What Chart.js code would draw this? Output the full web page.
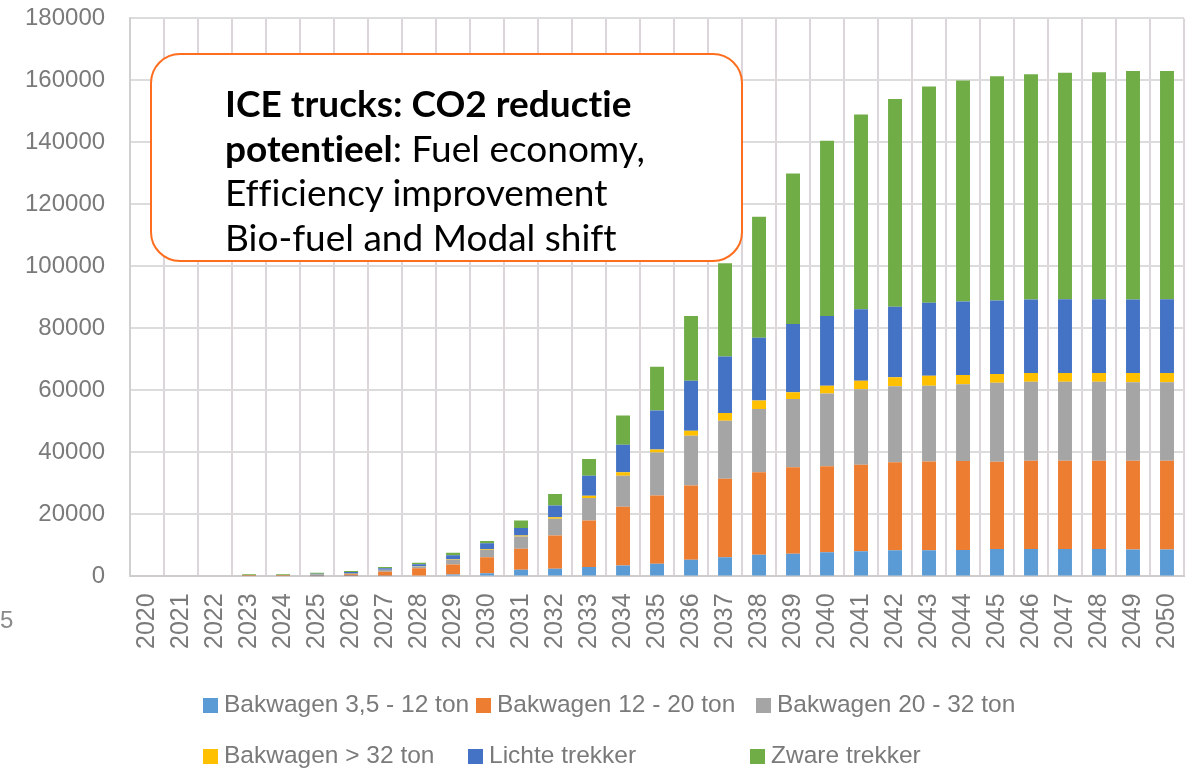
<!DOCTYPE html>
<html>
<head>
<meta charset="utf-8">
<script src="https://cdn.jsdelivr.net/npm/chart.js@4/dist/chart.umd.min.js"></script>
<style>
  html, body { margin: 0; padding: 0; background: #ffffff; }
  #wrap { position: relative; width: 1192px; height: 772px; overflow: hidden; background: #fff; }
  #chart { position: absolute; left: 0; top: -21px; }
  .callout { position: absolute; left: 150px; top: 53px; width: 589px; height: 205px;
    border: 2px solid #FF6E1E; border-radius: 30px; background: #fff; box-sizing: content-box;
    font-family: "Lato", "Noto Sans", sans-serif; color: #000; font-variant-ligatures: none; }
  .callout .inner { position: absolute; left: 73px; top: 26px; font-size: 37px; line-height: 44.5px; white-space: nowrap; }
  .legend-item { position: absolute; font-family: "Liberation Sans", Arial, sans-serif; font-size: 24.5px; color: #7a7a7a; white-space: nowrap; line-height: 28px; }
  .legend-item .box { display: inline-block; width: 15px; height: 15px; margin-right: 6px; vertical-align: -1px; }
  .stray { position: absolute; left: 0px; top: 606px; font-family: "Liberation Sans", Arial, sans-serif; font-size: 24px; color: #8a8a8a; }
</style>
</head>
<body>
<div id="wrap">
  <canvas id="chart" width="1214" height="793"></canvas>
  <div class="callout"><div class="inner" id="calloutText"></div></div>
  <div id="legend"></div>
  <div class="stray">5</div>
</div>
<script>
// ---- data ----
const years = ["2020","2021","2022","2023","2024","2025","2026","2027","2028","2029","2030",
  "2031","2032","2033","2034","2035","2036","2037","2038","2039","2040",
  "2041","2042","2043","2044","2045","2046","2047","2048","2049","2050"];

const bakwagen3_12 = [0,0,0,0,0,50,100,200,300,600,1000,2100,2500,3000,3500,4100,5400,6200,7000,7300,7800,8100,8400,8400,8500,8800,8800,8800,8800,8700,8700];
const bakwagen12_20 = [0,0,0,100,100,300,600,1300,2300,3200,5200,6800,10700,15000,19000,22000,23900,25300,26600,27900,27700,27900,28400,28700,28700,28200,28500,28500,28500,28600,28600];
const bakwagen20_32 = [0,0,0,200,200,300,400,600,600,1600,2400,4000,5400,7300,10000,13900,16100,18700,20400,22000,23500,24400,24500,24400,24800,25500,25500,25500,25500,25300,25300];
const bakwagen32plus = [0,0,0,0,0,0,0,50,100,100,200,300,500,700,1100,900,1600,2500,2700,2200,2500,2700,2900,3200,3000,2800,2800,2800,2800,3000,3000];
const lichteTrekker = [0,0,0,100,100,200,300,500,600,1300,1900,2400,3800,6500,8900,12600,16100,18200,20300,22000,22500,23100,22800,23600,23700,23700,23700,23800,23800,23700,23800];
const zwareTrekker = [0,0,0,300,300,300,300,400,500,800,700,2400,3700,5400,9400,14100,20900,30100,39000,48600,56500,62800,67000,69700,71300,72300,72700,73100,73200,73700,73600];

const seriesLabels = ["Bakwagen 3,5 - 12 ton","Bakwagen 12 - 20 ton","Bakwagen 20 - 32 ton","Bakwagen > 32 ton","Lichte trekker","Zware trekker"];
const seriesColors = ["#5B9BD5","#ED7D31","#A5A5A5","#FFC000","#4472C4","#70AD47"];
const yTicks = [0,20000,40000,60000,80000,100000,120000,140000,160000,180000];

const calloutBold1 = "ICE trucks: CO2 reductie";
const calloutBold2 = "potentieel";
const calloutRest2 = ": Fuel economy,";
const calloutLine3 = "Efficiency improvement";
const calloutLine4 = "Bio-fuel and Modal shift";

// ---- chart ----
const seriesValues = [bakwagen3_12, bakwagen12_20, bakwagen20_32, bakwagen32plus, lichteTrekker, zwareTrekker];
const datasets = seriesLabels.map((lab, i) => ({
  label: lab,
  data: seriesValues[i],
  backgroundColor: seriesColors[i],
  borderWidth: 0,
  barPercentage: 0.41,
  categoryPercentage: 1.0
}));

new Chart(document.getElementById('chart'), {
  type: 'bar',
  data: { labels: years, datasets: datasets },
  options: {
    responsive: false,
    animation: false,
    layout: { padding: { left: 0, right: 0, top: 0, bottom: 106 } },
    plugins: { legend: { display: false }, tooltip: { enabled: false } },
    scales: {
      x: {
        stacked: true,
        grid: { display: true, offset: true, color: '#dcd6dc', lineWidth: 2, drawTicks: false },
        border: { display: true, color: '#d0cccc', width: 2 },
        ticks: { minRotation: 90, maxRotation: 90, padding: 17, autoSkip: false,
          color: '#7a7a7a', font: { family: 'Liberation Sans', size: 25 } }
      },
      y: {
        stacked: true,
        min: 0, max: 180000,
        afterBuildTicks: (axis) => { axis.ticks = yTicks.map(v => ({ value: v })); },
        grid: { color: '#dcdcdc', lineWidth: 2, drawTicks: false },
        border: { display: true, color: '#d0d0d0', width: 2 },
        ticks: { padding: 25, color: '#7a7a7a', font: { family: 'Liberation Sans', size: 24 },
          callback: (v) => String(v) }
      }
    }
  }
});

// ---- callout text ----
const ct = document.getElementById('calloutText');
ct.innerHTML = '<b>' + calloutBold1 + '</b><br><b>' + calloutBold2 + '</b>' + calloutRest2 +
  '<br>' + calloutLine3 + '<br>' + calloutLine4;

// ---- legend ----
const legendPos = [[203,690],[476,690],[756,690],[203,741],[468,741],[750,741]];
const lg = document.getElementById('legend');
seriesLabels.forEach((lab, i) => {
  const d = document.createElement('div');
  d.className = 'legend-item';
  d.style.left = legendPos[i][0] + 'px';
  d.style.top = legendPos[i][1] + 'px';
  const b = document.createElement('span');
  b.className = 'box';
  b.style.background = seriesColors[i];
  d.appendChild(b);
  d.appendChild(document.createTextNode(lab));
  lg.appendChild(d);
});
</script>
</body>
</html>
